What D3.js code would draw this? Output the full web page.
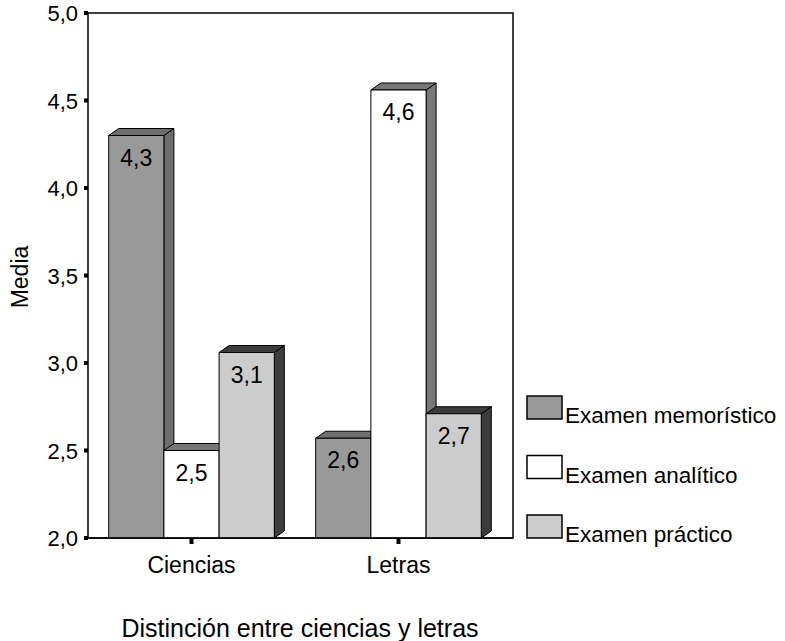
<html><head><meta charset="utf-8"/>
<script src="https://d3js.org/d3.v7.min.js"></script>
<style>
  body { margin: 0; padding: 0; background: #fff; }
  text { font-family: 'Liberation Sans', Arial, sans-serif; fill: #000; }
</style>
</head>
<body>
<svg id="chart" width="785" height="641"></svg>
<script>
  // data
  const groups = ["Ciencias", "Letras"];
  const series = ["Examen memorístico", "Examen analítico", "Examen práctico"];
  const memoristico = [4.30, 2.57];
  const analitico = [2.50, 4.56];
  const practico = [3.06, 2.71];
  const barLabels = [["4,3", "2,6"], ["2,5", "4,6"], ["3,1", "2,7"]];
  const yTicks = [2.0, 2.5, 3.0, 3.5, 4.0, 4.5, 5.0];

  const values = [memoristico, analitico, practico];
  const frontColor = ["#999999", "#ffffff", "#cccccc"];
  const sideColor = ["#6e6e6e", "#777777", "#3c3c3c"];

  const svg = d3.select("#chart");
  const plotL = 88, plotR = 513, plotT = 13, plotB = 538;
  const dx = 10, dy = 7;   // depth of the 3D bars

  const y = d3.scaleLinear().domain([2, 5]).range([plotB, plotT]);
  const x0 = d3.scaleBand().domain(groups).range([plotL, 502]).paddingInner(0.2).paddingOuter(0.1);
  const x1 = d3.scaleBand().domain(d3.range(series.length)).range([0, x0.bandwidth()]);

  // frame
  svg.append("path")
    .attr("d", `M${plotL},${plotB}H${plotR}V${plotT}H${plotL}Z`)
    .attr("fill", "none").attr("stroke", "#000").attr("stroke-width", 1.5);

  // bars
  groups.forEach((g, gi) => {
    series.forEach((s, si) => {
      const v = values[si][gi];
      const bx = x0(g) + x1(si), w = x1.bandwidth(), ty = y(v), y0 = y(2);
      const gg = svg.append("g").attr("stroke", "#000").attr("stroke-width", 1).attr("stroke-linejoin", "round");
      gg.append("path")
        .attr("d", `M${bx + w},${ty}L${bx + w + dx},${ty - dy}L${bx + w + dx},${y0 - dy}L${bx + w},${y0}Z`)
        .attr("fill", sideColor[si]);
      gg.append("path")
        .attr("d", `M${bx},${ty}L${bx + dx},${ty - dy}L${bx + w + dx},${ty - dy}L${bx + w},${ty}Z`)
        .attr("fill", sideColor[si]);
      gg.append("rect")
        .attr("x", bx).attr("y", ty).attr("width", w).attr("height", y0 - ty)
        .attr("fill", frontColor[si]);
      svg.append("text")
        .attr("x", bx + w / 2).attr("y", ty + 30)
        .attr("text-anchor", "middle").attr("font-size", 23)
        .text(barLabels[si][gi]);
    });
  });

  // redraw bottom edge over bars
  svg.append("line").attr("x1", plotL).attr("x2", plotR).attr("y1", plotB).attr("y2", plotB)
    .attr("stroke", "#000").attr("stroke-width", 1.5);

  // y ticks
  yTicks.forEach(t => {
    svg.append("rect").attr("x", plotL - 4).attr("y", y(t) - 2).attr("width", 4).attr("height", 4).attr("fill", "#000");
    svg.append("text").attr("x", 78).attr("y", y(t) + 8)
      .attr("text-anchor", "end").attr("font-size", 22)
      .text(d3.format(".1f")(t).replace(".", ","));
  });

  // x ticks
  groups.forEach(g => {
    const cx = x0(g) + x0.bandwidth() / 2;
    svg.append("rect").attr("x", cx - 2).attr("y", plotB + 1).attr("width", 4).attr("height", 5).attr("fill", "#000");
    svg.append("text").attr("x", cx).attr("y", 573)
      .attr("text-anchor", "middle").attr("font-size", 23).text(g);
  });

  // axis titles
  svg.append("text").attr("x", 300).attr("y", 637).attr("text-anchor", "middle")
    .attr("font-size", 25).text("Distinción entre ciencias y letras");
  svg.append("text").attr("transform", "translate(28,277) rotate(-90)")
    .attr("text-anchor", "middle").attr("font-size", 23).text("Media");

  // legend
  series.forEach((s, si) => {
    const ly = 396 + si * 59.5;
    svg.append("rect").attr("x", 527).attr("y", ly).attr("width", 35).attr("height", 23)
      .attr("fill", frontColor[si]).attr("stroke", "#000").attr("stroke-width", 1.5);
    svg.append("text").attr("x", 565).attr("y", ly + 27).attr("font-size", 22.5).text(s);
  });
</script>
</body></html>
